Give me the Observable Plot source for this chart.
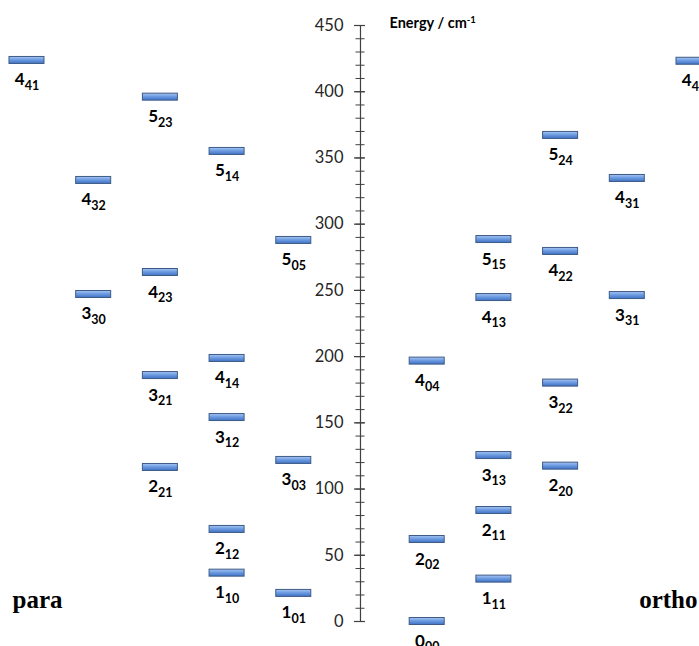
<!DOCTYPE html>
<html><head><meta charset="utf-8">
<script src="https://cdn.jsdelivr.net/npm/d3@7"></script>
<script src="https://cdn.jsdelivr.net/npm/@observablehq/plot@0.6"></script>
<style>
body{margin:0;background:#fff;overflow:hidden}
#chart{position:relative;width:699px;height:646px}
#chart svg{display:block}
</style>
</head><body><div id="chart"></div>
<script>
// para levels (J, KaKc, energy in cm-1)
const paraJ = [4, 5, 4, 5, 5, 3, 4, 4, 3, 3, 3, 2, 2, 1, 1];
const paraK = ["41","23","32","14","05","30","23","14","21","12","03","21","12","10","01"];
const paraEnergy = [423.6, 395.9, 333.0, 354.9, 287.7, 246.9, 263.5, 198.6, 185.7, 154.0, 121.6, 116.3, 69.5, 36.5, 21.2];
// ortho levels
const orthoJ = [0, 1, 2, 2, 3, 2, 3, 4, 4, 5, 4, 5, 4, 3, 4];
const orthoK = ["00","11","02","11","13","20","22","04","13","15","22","24","31","31","40"];
const orthoEnergy = [0, 32.0, 61.9, 83.8, 125.3, 117.3, 180.0, 196.6, 244.6, 288.4, 279.4, 367.0, 334.5, 246.1, 423.0];
// axis
const majorTicks = [0, 50, 100, 150, 200, 250, 300, 350, 400, 450];
const minorStep = 10;
const axisTitle = "Energy / cm";
const axisTitleSup = "-1";
const groupNames = ["para", "ortho"];

const levels = [];
paraJ.forEach((J, i) => levels.push({J, K: paraK[i], E: paraEnergy[i], col: -(+paraK[i][0] + 1)}));
orthoJ.forEach((J, i) => levels.push({J, K: orthoK[i], E: orthoEnergy[i], col: +orthoK[i][0] + 1}));
const minorTicks = d3.range(0, 451, minorStep);

const axisColor = "#404040";

const plot = Plot.plot({
  width: 699, height: 646,
  marginLeft: 0, marginRight: 0, marginTop: 25, marginBottom: 25,
  x: {domain: [-5.397, 5.0825], axis: null},
  y: {domain: [0, 450], axis: null},
  style: {fontFamily: "Lato, sans-serif", background: "#fff", color: "#000"},
  marks: [
    () => {
      const defs = d3.create("svg:defs");
      const lg = defs.append("linearGradient").attr("id", "lvlGrad")
        .attr("x1", 0).attr("y1", 0).attr("x2", 0).attr("y2", 1);
      lg.append("stop").attr("offset", "0%").attr("stop-color", "#a9c6f0");
      lg.append("stop").attr("offset", "45%").attr("stop-color", "#6f9de3");
      lg.append("stop").attr("offset", "100%").attr("stop-color", "#3f72c4");
      return defs.node();
    },
    Plot.ruleX([0], {y1: 0, y2: 450, stroke: axisColor, strokeWidth: 1.2}),
    Plot.ruleY(minorTicks, {y: d => d, x1: 0, x2: 0, insetLeft: -4.5, insetRight: -4.5, stroke: axisColor, strokeWidth: 1}),
    Plot.ruleY(majorTicks, {y: d => d, x1: 0, x2: 0, insetLeft: -6, insetRight: -5, stroke: axisColor, strokeWidth: 1.2}),
    Plot.text(majorTicks, {x: 0, y: d => d, text: d => String(d), dx: -17, textAnchor: "end", fontSize: 16.5, fill: "#262626"}),
    Plot.text([axisTitle + "^" + axisTitleSup], {x: 0, y: 450, dx: 29, dy: 2, lineAnchor: "bottom", textAnchor: "start", fontWeight: "bold", fontSize: 14.5, fill: "#000"}),
    Plot.rect(levels, {x1: "col", x2: "col", y1: "E", y2: "E",
      insetLeft: -17.5, insetRight: -17.5, insetTop: -3.5, insetBottom: -3.5,
      fill: "url(#lvlGrad)", stroke: "#3d5b86", strokeWidth: 1}),
    Plot.text(levels, {x: "col", y: "E", text: d => d.J + "|" + d.K, dy: 25, lineAnchor: "bottom",
      fontWeight: "bold", fontSize: 17, fill: "#000"}),
    Plot.text([groupNames[0]], {frameAnchor: "bottom-left", dx: 12, dy: -14, lineAnchor: "bottom", textAnchor: "start",
      fontFamily: "'Liberation Serif', 'Times New Roman', serif", fontWeight: "bold", fontSize: 25, fill: "#000"}),
    Plot.text([groupNames[1]], {frameAnchor: "bottom-right", dx: -2, dy: -14, lineAnchor: "bottom", textAnchor: "end",
      fontFamily: "'Liberation Serif', 'Times New Roman', serif", fontWeight: "bold", fontSize: 25, fill: "#000"})
  ]
});

d3.select(plot).selectAll("text").each(function() {
  const t = this.textContent;
  const s = d3.select(this);
  if (t.includes("|")) {
    const [a, b] = t.split("|");
    s.text(null);
    s.append("tspan").text(a);
    s.append("tspan").attr("font-size", 12.5).attr("dy", 4.5).text(b);
  } else if (t.includes("^")) {
    const [a, b] = t.split("^");
    s.text(null);
    s.append("tspan").text(a);
    s.append("tspan").attr("font-size", 9.5).attr("dy", -5).text(b);
  }
});

document.getElementById("chart").append(plot);
</script>
</body></html>
